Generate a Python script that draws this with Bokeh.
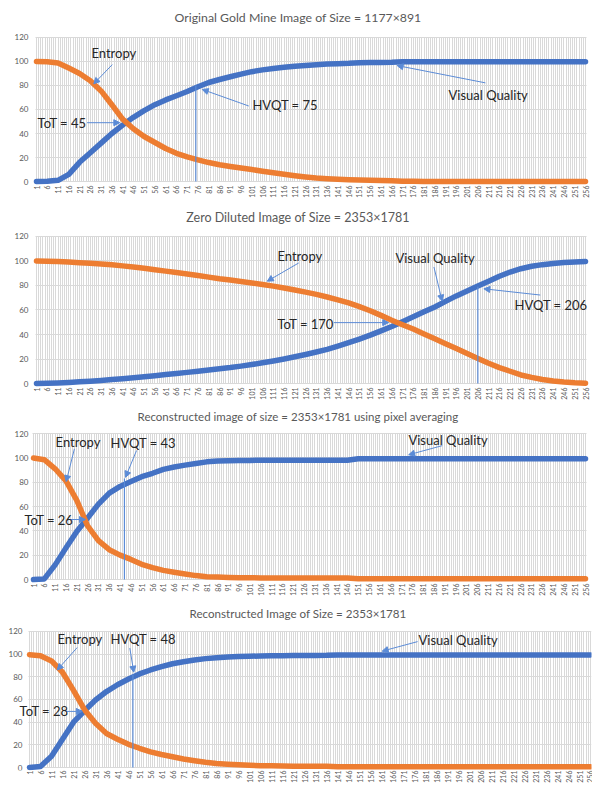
import math
from bokeh.plotting import figure
from bokeh.layouts import column
from bokeh.models import Range1d, FixedTicker, Label, Arrow, NormalHead
from bokeh.core.properties import value
from bokeh.embed import file_html
from bokeh.resources import INLINE

# ---------------- data ----------------
x_ticks = [1, 6, 11, 16, 21, 26, 31, 36, 41, 46, 51, 56, 61, 66, 71, 76, 81, 86, 91, 96,
           101, 106, 111, 116, 121, 126, 131, 136, 141, 146, 151, 156, 161, 166, 171, 176,
           181, 186, 191, 196, 201, 206, 211, 216, 221, 226, 231, 236, 241, 246, 251, 256]
y_ticks = [0, 20, 40, 60, 80, 100, 120]
y_labels = ["0", "20", "40", "60", "80", "100", "120"]
categories = list(range(1, 257))

titles = ["Original Gold Mine Image of Size = 1177×891",
          "Zero Diluted Image of Size = 2353×1781",
          "Reconstructed image of size = 2353×1781 using pixel averaging",
          "Reconstructed Image of Size = 2353×1781"]

entropy_1 = [100, 99.8, 98.8, 94.5, 90, 84, 75.5, 64, 52, 44, 37.5, 32.5, 27.5, 23.5, 20.5, 18,
             15.8, 14, 12.5, 11.2, 10, 8.6, 7.3, 6, 4.8, 3.8, 3, 2.4, 1.9, 1.5, 1.2, 1, 0.8,
             0.6, 0.3, 0.2, 0.1, 0.1, 0.1, 0.1, 0.1, 0.1, 0.1, 0.1, 0.1, 0.1, 0.1, 0.1, 0.1,
             0.1, 0.1, 0.1]
quality_1 = [0, 0.2, 1, 6, 16, 24, 32, 40, 47, 53.5, 59, 64, 68, 71.5, 75, 79, 82.5, 85, 87.3,
             89.5, 91.5, 93, 94.2, 95.2, 96, 96.7, 97.3, 97.8, 98.2, 98.5, 99, 99.1, 99.2, 99.3,
             99.8, 99.8, 99.8, 99.8, 99.8, 99.8, 99.8, 99.8, 99.8, 99.8, 99.8, 99.8, 99.8, 99.8,
             99.8, 99.8, 99.8, 99.8]

entropy_2 = [100, 99.8, 99.5, 99.1, 98.6, 98.1, 97.6, 96.9, 96, 95, 94, 92.9, 91.7, 90.6, 89.4,
             88.1, 86.8, 85.5, 84.4, 83.3, 82.1, 80.8, 79.5, 78, 76.3, 74.6, 72.7, 70.6, 68.3,
             65.8, 62.8, 59.4, 55.6, 51.6, 48, 44.5, 40.5, 36.5, 32.5, 28.5, 24.5, 20.5, 16.5,
             13, 10, 7, 5, 3.3, 2, 1.2, 0.6, 0.3]
quality_2 = [0, 0.2, 0.5, 0.9, 1.4, 1.9, 2.5, 3.2, 3.9, 4.7, 5.5, 6.4, 7.3, 8.2, 9.1, 10, 11, 12,
             13, 14.2, 15.5, 16.9, 18.4, 20, 21.8, 23.7, 25.7, 27.9, 30.5, 33.3, 36.3, 39.5, 43,
             46.5, 50.5, 54.5, 58.5, 62.5, 67, 71.5, 75.5, 79.5, 83.5, 87.5, 91, 93.7, 95.7, 97,
             98, 98.7, 99.2, 99.6]

entropy_3 = [99.8, 98.5, 91, 81, 65, 44, 32, 24.5, 20, 16.5, 12.5, 9.8, 7.5, 5.9, 4.5, 3.2, 2.2,
             2, 1.7, 1.5, 1.4, 1.3, 1.2, 1.2, 1.2, 1.2, 1.2, 1.2, 1.2, 1.2, 0.6, 0.6, 0.6, 0.6,
             0.6, 0.6, 0.6, 0.6, 0.6, 0.6, 0.6, 0.6, 0.6, 0.6, 0.6, 0.6, 0.6, 0.6, 0.6, 0.6,
             0.6, 0.6]
quality_3 = [0, 0.5, 12, 26, 39.5, 50.5, 62, 71, 76.5, 80.5, 84.5, 87.3, 90.5, 92.5, 94, 95.3,
             96.7, 97.3, 97.6, 97.8, 97.9, 98, 98, 98, 98, 98, 98, 98, 98, 98, 99.2, 99.2, 99.2,
             99.2, 99.2, 99.2, 99.2, 99.2, 99.2, 99.2, 99.2, 99.2, 99.2, 99.2, 99.2, 99.2, 99.2,
             99.2, 99.2, 99.2, 99.2, 99.2]

entropy_4 = [99.5, 98.5, 94, 84, 68, 51, 39, 30, 25, 20.5, 17, 13.8, 11.5, 9.5, 7.6, 6, 4.6,
             3.6, 2.9, 2.4, 2, 1.7, 1.5, 1.3, 1.2, 1.1, 1.1, 1.1, 0.7, 0.7, 0.7, 0.7, 0.7, 0.7,
             0.7, 0.7, 0.7, 0.7, 0.7, 0.7, 0.7, 0.7, 0.7, 0.7, 0.7, 0.7, 0.7, 0.7, 0.7, 0.7,
             0.7, 0.7]
quality_4 = [0, 1, 10, 25, 40, 50, 59.5, 67, 73, 78, 82.5, 86, 89, 91.5, 93.2, 94.8, 96, 96.8,
             97.4, 97.8, 98.1, 98.3, 98.5, 98.6, 98.7, 98.8, 98.8, 98.9, 99.3, 99.3, 99.3, 99.3,
             99.3, 99.3, 99.3, 99.3, 99.3, 99.3, 99.3, 99.3, 99.3, 99.3, 99.3, 99.3, 99.3, 99.3,
             99.3, 99.3, 99.3, 99.3, 99.3, 99.3]

tot = [45, 170, 26, 28]
hvqt = [75, 206, 43, 48]
hvqt_value = [80, 79, 83, 82]

# ---------------- style ----------------
BLUE = "#4472C4"
ORANGE = "#ED7D31"
ARROW = "#5b8bd6"
GRID = "#d9d9d9"
TXT = "#595959"
FONT = "Lato"
FRAME_LEFT = 4
WIDTH = 592
PAD_TOP = 5


def make_panel(idx, ent, vq, tsize, tstand, fig_top, fig_bot, y120_px, y0_px, pad_bot,
               c1_px, c256_px, lab_px, notes, arrows):
    right = 1
    h = fig_bot - fig_top
    top = (y120_px - PAD_TOP) - fig_top
    bottom = fig_bot - (y0_px + pad_bot)
    sx = (c256_px - c1_px) / 255.0
    sy = (y0_px - y120_px) / 120.0
    x0 = 1 - (c1_px - FRAME_LEFT) / sx
    x1 = 256 + ((WIDTH - right) - c256_px) / sx
    p = figure(width=WIDTH, height=h, output_backend="svg", toolbar_location=None,
               x_range=Range1d(x0, x1),
               y_range=Range1d(-pad_bot / sy, 120 + PAD_TOP / sy),
               min_border_left=FRAME_LEFT, min_border_right=right, min_border_top=top,
               min_border_bottom=bottom, outline_line_color=None,
               background_fill_color="white")
    p.title.text = titles[idx]
    p.title.align = "center"
    p.title.offset = 0
    p.title.standoff = tstand
    p.title.text_font = FONT
    p.title.text_font_size = tsize
    p.title.text_font_style = "normal"
    p.title.text_color = TXT

    p.xgrid.ticker = FixedTicker(ticks=categories)
    p.xgrid.grid_line_color = GRID
    p.xgrid.grid_line_width = 1
    p.xgrid.cross_bounds = (0, 120)
    p.ygrid.ticker = FixedTicker(ticks=y_ticks)
    p.ygrid.grid_line_color = GRID
    p.ygrid.cross_bounds = (0.6, 256.6)

    p.xaxis.ticker = FixedTicker(ticks=x_ticks)
    ax = p.xaxis[0]
    ax.major_tick_line_color = None
    ax.minor_tick_line_color = None
    ax.major_tick_out = 0
    ax.major_tick_in = 0
    ax.minor_tick_out = 0
    ax.minor_tick_in = 0
    ax.major_label_text_font = FONT
    ax.major_label_text_color = TXT
    ax.axis_line_color = None
    ax.major_label_text_font_size = "7px"
    ax.major_label_orientation = math.pi / 2
    ax.major_label_standoff = 0
    p.yaxis.visible = False

    # y tick labels drawn inside the widened frame, so annotations may overlap them
    lab_x = 1 - (c1_px - lab_px) / sx
    p.text(x=[lab_x] * len(y_ticks), y=y_ticks, text=y_labels, text_align="right",
           text_baseline="middle", text_font=value(FONT), text_font_size="8px",
           text_color=TXT)

    p.line(x_ticks, vq, line_color=BLUE, line_width=5.5, line_cap="round", line_join="round")
    p.line(x_ticks, ent, line_color=ORANGE, line_width=5.5, line_cap="round", line_join="round")

    p.segment(x0=[hvqt[idx]], y0=[0], x1=[hvqt[idx]], y1=[hvqt_value[idx]],
              line_color=ARROW, line_width=1.2)

    for (xa, ya, xb, yb) in arrows:
        p.add_layout(Arrow(x_start=xa, y_start=ya, x_end=xb, y_end=yb, line_color=ARROW,
                           line_width=1,
                           end=NormalHead(size=6, fill_color=ARROW, line_color=ARROW)))
    for (x, y, t) in notes:
        p.add_layout(Label(x=x, y=y, text=t, text_font=FONT, text_font_size="13px",
                           text_color="#262626", text_baseline="middle", text_align="left"))
    return p


p1 = make_panel(0, entropy_1, quality_1, "12.3px", 15, 0, 200, 36, 181, 4, 36, 585, 28,
                [(26.5, 106.8, "Entropy"), (1.5, 49, "ToT = %d" % tot[0]),
                 (101.3, 63.5, "HVQT = %d" % hvqt[0]), (192.4, 71.8, "Visual Quality")],
                [(36.2, 97.4, 27.6, 81.4), (24.5, 49, 39.7, 49), (99.6, 62.9, 78, 76.7),
                 (209.5, 82.2, 168.5, 96.6)])
p2 = make_panel(1, entropy_2, quality_2, "12.5px", 14, 200, 402, 235, 383, 4, 36, 585, 28,
                [(112.9, 103.8, "Entropy"), (167.7, 102.4, "Visual Quality"),
                 (112.9, 48.7, "ToT = %d" % tot[1]), (223, 63.8, "HVQT = %d" % hvqt[1])],
                [(122.8, 98.4, 108.2, 83.5), (185.6, 95.1, 189.4, 67.3),
                 (139.1, 49.7, 164.6, 49.7), (235, 72.2, 208.8, 77.3)])
p3 = make_panel(2, entropy_3, quality_3, "11.5px", 11, 402, 598, 433, 579, 4, 33, 585, 28,
                [(11.2, 112.8, "Entropy"), (36.6, 112.4, "HVQT = %d" % hvqt[2]),
                 (-3.2, 48.5, "ToT = %d" % tot[2]), (174.2, 114.8, "Visual Quality")],
                [(19.9, 107.4, 16.1, 80.5), (48.6, 106, 43.5, 84), (16.6, 49.3, 25, 49.3),
                 (189.8, 110, 174.3, 102.5)])
p4 = make_panel(3, entropy_4, quality_4, "11.6px", 13, 598, 785, 631, 770, 3, 29, 590, 22,
                [(13.7, 112.9, "Entropy"), (37.8, 112.9, "HVQT = %d" % hvqt[3]),
                 (-3.5, 50, "ToT = %d" % tot[3]), (177.8, 112.3, "Visual Quality")],
                [(22.7, 105.8, 13.6, 86), (46.6, 105.3, 48.4, 84), (17.4, 49.5, 25, 49.5),
                 (177.4, 111, 161.3, 102.6)])

layout = column(p1, p2, p3, p4, spacing=0)
open("out.html", "w").write(file_html(layout, INLINE))
